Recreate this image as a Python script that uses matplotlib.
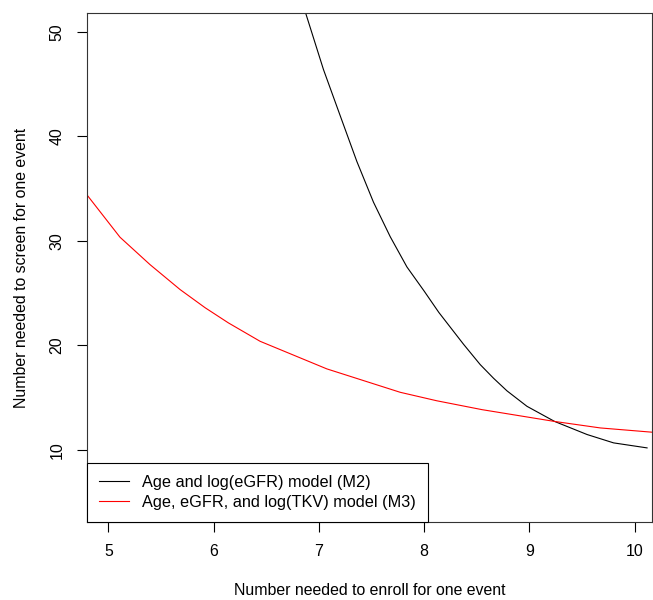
import matplotlib
matplotlib.use("Agg")
import matplotlib.pyplot as plt

plt.rcParams["font.family"] = ["Liberation Sans", "DejaVu Sans"]

# values
m2_x = [6.80, 6.873, 7.044, 7.202, 7.361, 7.519, 7.678, 7.837, 8.000, 8.140, 8.375,
        8.533, 8.660, 8.787, 8.977, 9.240, 9.548, 9.800, 10.118]
m2_y = [54.1, 51.85, 46.39, 42.0, 37.6, 33.7, 30.4, 27.5, 25.2, 23.15, 20.1,
        18.16, 16.85, 15.65, 14.17, 12.72, 11.47, 10.67, 10.19]

m3_x = [4.795, 5.111, 5.396, 5.682, 5.92, 6.141, 6.442, 7.076, 7.773, 8.120,
        8.550, 9.240, 9.674, 10.18]
m3_y = [34.43, 30.35, 27.73, 25.34, 23.6, 22.15, 20.39, 17.75, 15.51, 14.70,
        13.85, 12.72, 12.10, 11.68]

labels = ["Age and log(eGFR) model (M2)", "Age, eGFR, and log(TKV) model (M3)"]
x_ticks = [5, 6, 7, 8, 9, 10]
y_ticks = [10, 20, 30, 40, 50]

fig = plt.figure(figsize=(6.53, 6.0), dpi=100)
fig.patch.set_facecolor("white")
ax = fig.add_axes([0.1328, 0.13, 0.8657, 0.8483])

ax.plot(m2_x, m2_y, color="black", lw=0.8, label=labels[0])
ax.plot(m3_x, m3_y, color="red", lw=0.8, label=labels[1])

ax.set_xlim(4.795, 10.165)
ax.set_ylim(3.1, 51.8)
ax.set_xticks(x_ticks)
ax.set_yticks(y_ticks)
ax.tick_params(direction="out", length=7, width=0.8, labelsize=11.4, pad=9)
for lab in ax.get_yticklabels():
    lab.set_rotation(90)
    lab.set_va("center")
for s in ax.spines.values():
    s.set_linewidth(0.8)
    s.set_color("#333333")

ax.set_xlabel("Number needed to enroll for one event", fontsize=11.4, labelpad=17)
ax.set_ylabel("Number needed to screen for one event", fontsize=11.4, labelpad=15)

leg = ax.legend(loc="lower left", borderaxespad=0, fancybox=False, framealpha=1,
                edgecolor="black", fontsize=11.7, handlelength=1.85, handletextpad=0.8,
                borderpad=0.75, labelspacing=0.3)
leg.get_frame().set_linewidth(0.8)

fig.savefig("out.png", dpi=100)
plt.close(fig)
